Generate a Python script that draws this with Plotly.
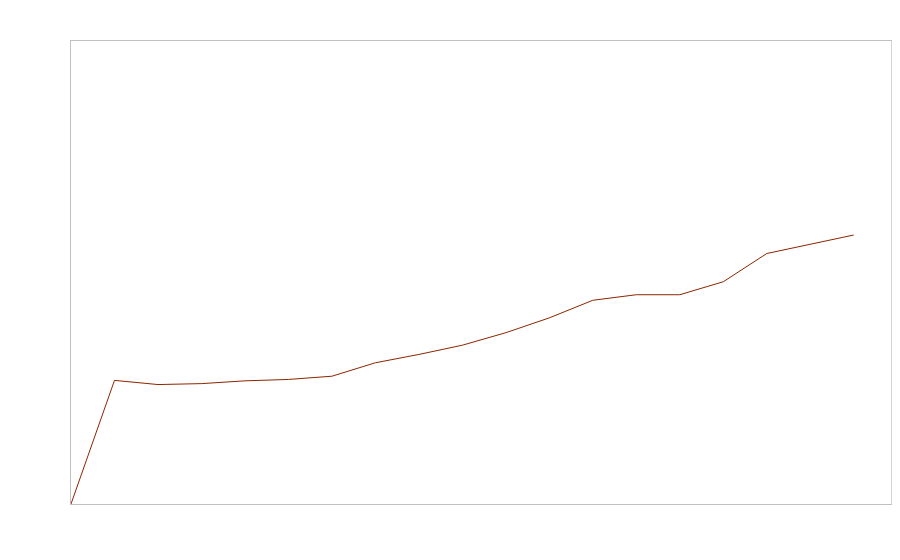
import plotly.graph_objects as go

x_index = list(range(19))
values = [0, 26.7, 25.8, 26.0, 26.6, 26.9, 27.6, 30.5, 32.3, 34.3, 37.0,
          40.2, 44.0, 45.2, 45.2, 48.0, 54.1, 56.1, 58.1]

fig = go.Figure()
fig.add_trace(go.Scatter(x=x_index, y=values, mode="lines",
                         line=dict(color="#8B2500", width=1), hoverinfo="skip"))

axis_common = dict(showgrid=False, zeroline=False, showticklabels=False, ticks="",
                   showline=True, mirror=True, linecolor="#c0c0c0", linewidth=1)
fig.add_shape(type="line", xref="paper", yref="paper", x0=1, x1=1, y0=0, y1=1,
              line=dict(color="#b8b8b8", width=1.2), layer="above")
fig.update_layout(
    width=900, height=560,
    margin=dict(l=63, r=16, t=33, b=64),
    paper_bgcolor="white", plot_bgcolor="white",
    showlegend=False,
    xaxis=dict(range=[0, 18.88], **axis_common),
    yaxis=dict(range=[0, 100], **axis_common),
)
fig.write_html("out.html")
